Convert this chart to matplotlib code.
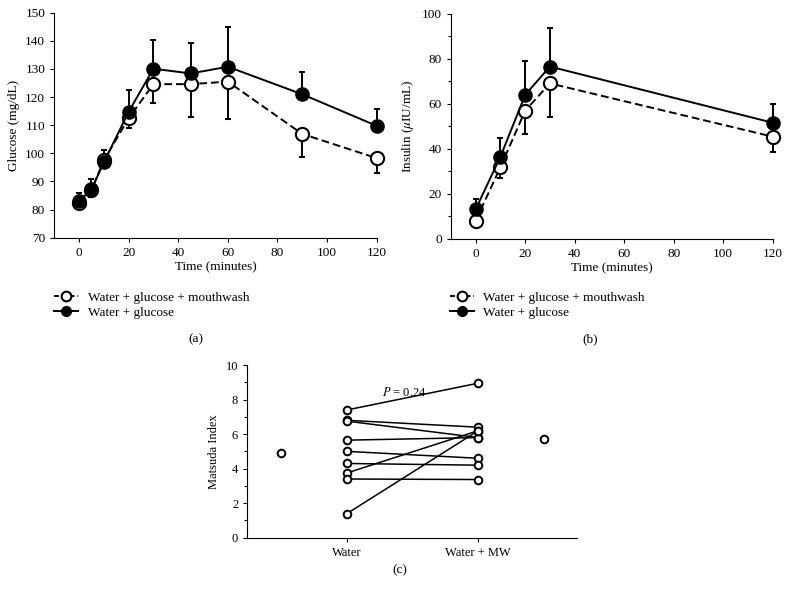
import matplotlib
matplotlib.use("Agg")
import matplotlib.pyplot as plt
from matplotlib.lines import Line2D
from matplotlib.ticker import MultipleLocator

plt.rcParams['font.family'] = ['Liberation Serif', 'DejaVu Serif']
plt.rcParams['mathtext.fontset'] = 'stix'
plt.rcParams['font.size'] = 9.5

# panel (a): glucose
t_glu = [0, 5, 10, 20, 30, 45, 60, 90, 120]
glu_mw = [82.5, 87.0, 97.5, 112.5, 124.6, 124.6, 125.5, 106.9, 98.3]
glu_mw_err = [1.0, 2.4, 1.0, 3.6, 6.6, 11.6, 13.4, 8.3, 5.2]
glu_w = [83.0, 87.2, 96.8, 114.8, 130.1, 128.4, 130.8, 121.0, 109.8]
glu_w_err = [2.8, 3.6, 4.4, 7.7, 10.2, 10.7, 14.2, 7.8, 6.0]

# panel (b): insulin
t_ins = [0, 10, 20, 30, 120]
ins_mw = [8.0, 31.8, 57.0, 69.1, 45.4]
ins_mw_err = [0.0, 4.6, 10.4, 14.8, 7.0]
ins_w = [13.1, 36.5, 64.0, 76.6, 51.6]
ins_w_err = [4.6, 8.5, 15.1, 17.0, 8.3]

# panel (c): Matsuda index
groups = ['Water', 'Water + MW']
matsuda_water = [7.4, 6.8, 6.75, 5.65, 5.0, 4.3, 3.75, 3.4, 1.4]
matsuda_mw = [8.95, 6.4, 5.8, 5.8, 4.6, 4.2, 6.2, 3.37, 6.2]
outlier_x = [-0.5, 1.5]
outlier_y = [4.9, 5.7]

lab_mw = 'Water + glucose + mouthwash'
lab_w = 'Water + glucose'

fig = plt.figure(figsize=(7.9, 6), dpi=100)
ax_a = fig.add_axes([0.0687, 0.6038, 0.408, 0.375])
ax_b = fig.add_axes([0.5708, 0.6022, 0.4073, 0.3745])
ax_c = fig.add_axes([0.313, 0.1038, 0.417, 0.2878])

lw = 1.4
ms = 9.5


def draw_pair(ax, t, y_mw, e_mw, y_w, e_w):
    zeros = [0] * len(t)
    ax.errorbar(t, y_mw, yerr=[e_mw, zeros], color='black', lw=lw,
                dashes=(4, 2), marker='o', ms=ms, mfc='white', mec='black',
                mew=1.5, capsize=2.5, elinewidth=lw, capthick=lw,
                clip_on=False)
    ax.errorbar(t, y_w, yerr=[zeros, e_w], color='black', lw=lw,
                marker='o', ms=ms, mfc='black', mec='black',
                capsize=2.5, elinewidth=lw, capthick=lw,
                clip_on=False)
    for s in ['top', 'right']:
        ax.spines[s].set_visible(False)
    ax.set_xlim(-10, 120)
    ax.set_xticks(range(0, 121, 20))
    ax.set_xlabel('Time (minutes)', labelpad=2)
    ax.tick_params(direction='out', length=3, width=0.8)


draw_pair(ax_a, t_glu, glu_mw, glu_mw_err, glu_w, glu_w_err)
ax_a.set_ylim(70, 150)
ax_a.set_yticks(range(70, 151, 10))
ax_a.set_ylabel('Glucose (mg/dL)')

draw_pair(ax_b, t_ins, ins_mw, ins_mw_err, ins_w, ins_w_err)
ax_b.set_ylim(0, 100)
ax_b.set_yticks(range(0, 101, 20))
ax_b.yaxis.set_minor_locator(MultipleLocator(10))
ax_b.tick_params(which='minor', direction='out', length=2, width=0.8)
ax_b.set_ylabel(r'Insulin ($\mu$IU/mL)')

handles = [
    Line2D([], [], color='black', lw=lw, dashes=(2.5, 1.5), marker='o', ms=7,
           mfc='white', mec='black', mew=1.5),
    Line2D([], [], color='black', lw=lw, marker='o', ms=7,
           mfc='black', mec='black'),
]
for ax, x0 in [(ax_a, 0.06), (ax_b, 0.561)]:
    ax.legend(handles, [lab_mw, lab_w], loc='upper left',
              bbox_to_anchor=(x0, 0.525), bbox_transform=fig.transFigure,
              frameon=False, handlelength=1.8, handletextpad=0.75,
              borderpad=0, labelspacing=0.2)

# panel (c)
for w, m in zip(matsuda_water, matsuda_mw):
    ax_c.plot([0, 1], [w, m], color='black', lw=1.1, marker='o', ms=5.5,
              mfc='white', mec='black', mew=1.4)
ax_c.plot(outlier_x, outlier_y, ls='none', marker='o', ms=5.5,
          mfc='white', mec='black', mew=1.4)
ax_c.set_xlim(-0.76, 1.75)
ax_c.set_ylim(0, 10)
ax_c.set_xticks([0, 1])
ax_c.set_xticklabels(groups)
ax_c.set_yticks(range(0, 11, 2))
ax_c.yaxis.set_minor_locator(MultipleLocator(1))
ax_c.tick_params(direction='out', length=3, width=0.8, labelsize=9)
ax_c.tick_params(which='minor', direction='out', length=2, width=0.8)
for s in ['top', 'right']:
    ax_c.spines[s].set_visible(False)
ax_c.set_ylabel('Matsuda Index', fontsize=9)
ax_c.text(0.44, 8.4, '$P$ = 0.24', ha='center', va='center', fontsize=9)

fig.text(0.248, 0.435, '(a)', ha='center', va='center')
fig.text(0.747, 0.435, '(b)', ha='center', va='center')
fig.text(0.506, 0.05, '(c)', ha='center', va='center')

fig.savefig('out.png', dpi=100)
